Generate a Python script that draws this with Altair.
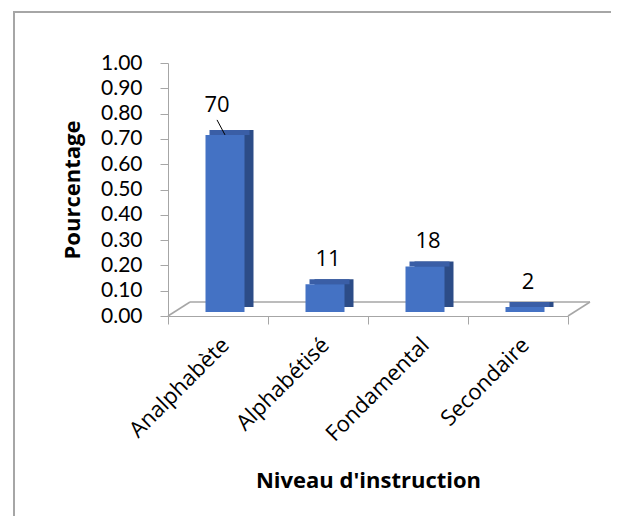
import altair as alt
import pandas as pd

categories = ["Analphabète", "Alphabétisé", "Fondamental", "Secondaire"]
values = [0.70, 0.11, 0.18, 0.02]
labels = ["70", "11", "18", "2"]
y_ticks = [0.0, 0.1, 0.2, 0.3, 0.4, 0.5, 0.6, 0.7, 0.8, 0.9, 1.0]

df = pd.DataFrame({"Niveau": categories, "Pourcentage": values, "Label": labels})

W, H = 400, 253
FONT = "Open Sans"
FS = 22
GRAY = "#a6a6a6"
FRONT = "#4472C4"
TOP = "#3A5EA6"
SIDE = "#2C4C87"

xs = alt.Scale(domain=categories, paddingInner=0, paddingOuter=0)
ys = alt.Scale(domain=[0, 1])

x_axis = alt.Axis(title="Niveau d'instruction", labelAngle=-45, tickBand="extent",
                  labelFont=FONT, labelFontSize=FS, labelColor="black",
                  titleFont=FONT, titleFontSize=FS, titleFontWeight="bold", titleColor="black",
                  domainColor=GRAY, tickColor=GRAY, tickSize=8, labelPadding=10, titlePadding=26)
y_axis = alt.Axis(title="Pourcentage", values=y_ticks, format=".2f", grid=False,
                  labelFont="Lato", labelFontSize=21, labelColor="black",
                  titleFont=FONT, titleFontSize=FS, titleFontWeight="bold", titleColor="black",
                  domainColor=GRAY, tickColor=GRAY, tickSize=8, labelPadding=18, titlePadding=16)

base = alt.Chart(df)
X = alt.X("Niveau:N", scale=xs, axis=x_axis, sort=categories)
Y = alt.Y("Pourcentage:Q", scale=ys, axis=y_axis)

one = pd.DataFrame({"a": [0]})

# outer frame
frame = alt.Chart(one).mark_rect(
    fill="transparent", stroke=GRAY, strokeWidth=2).encode(
    x=alt.value(-154), x2=alt.value(W + 80), y=alt.value(-51), y2=alt.value(H + 260))

# floor
floor_back = alt.Chart(one).mark_rule(
    color=GRAY, strokeWidth=1.5, yOffset=-14, xOffset=22, x2Offset=22).encode(
    x=alt.value(0), x2=alt.value(W), y=alt.value(H))
floor_left = alt.Chart(one).mark_rule(
    color=GRAY, strokeWidth=1.5).encode(
    x=alt.value(0), x2=alt.value(22), y=alt.value(H), y2=alt.value(H - 14))
floor_right = alt.Chart(one).mark_rule(
    color=GRAY, strokeWidth=1.5).encode(
    x=alt.value(W), x2=alt.value(W + 22), y=alt.value(H), y2=alt.value(H - 14))

front = base.mark_bar(size=39, color=FRONT, xOffset=7, yOffset=-4, y2Offset=-4).encode(x=X, y=Y)
side = base.mark_bar(size=39, color=SIDE, xOffset=16, yOffset=-9, y2Offset=-9).encode(x=X, y=Y)
top = base.mark_bar(size=40, color=TOP, xOffset=11.5, yOffset=-9, y2Offset=-4).encode(
    x=X, y=Y, y2=alt.Y2("Pourcentage"))

txt = base.transform_filter(alt.datum.Niveau != categories[0]).mark_text(
    font=FONT, fontSize=FS, color="black", baseline="middle", xOffset=10, yOffset=-29).encode(
    x=X, y=Y, text="Label:N")
txt_first = base.transform_filter(alt.datum.Niveau == categories[0]).mark_text(
    font=FONT, fontSize=FS, color="black", baseline="middle", xOffset=-1, yOffset=-34).encode(
    x=X, y=Y, text="Label:N")
leader = base.transform_filter(alt.datum.Niveau == categories[0]).mark_rule(
    color="black", strokeWidth=1, xOffset=-1, x2Offset=7, yOffset=-19, y2Offset=-4).encode(
    x=X, x2=alt.X2("Niveau"),
    y=Y, y2=alt.Y2("Pourcentage"))

chart = alt.layer(frame, floor_back, floor_left, floor_right, side, top, front,
                  txt, txt_first, leader).properties(
    width=W, height=H,
    autosize=alt.AutoSizeParams(type="none"),
    padding={"left": 160, "top": 55, "right": 43, "bottom": 200},
).configure_view(stroke=None)

chart.save("out.html", embed_options={"renderer": "svg", "actions": False})
